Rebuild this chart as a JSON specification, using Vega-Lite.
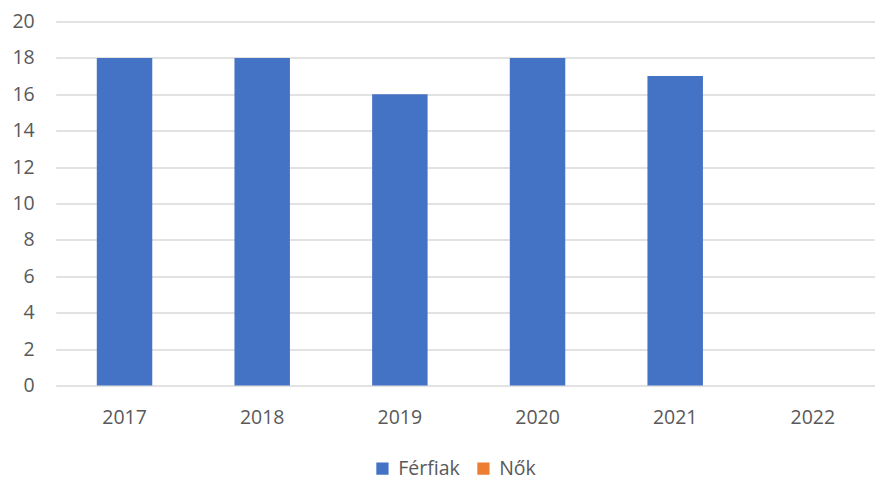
{
  "$schema": "https://vega.github.io/schema/vega-lite/v6.json",
  "width": 826,
  "height": 364,
  "autosize": {"type": "none"},
  "padding": {"left": 55.7, "top": 21.5, "right": 0, "bottom": 94.5},
  "background": "white",
  "data": {
    "values": [
      {"ev": "2017", "nem": "Férfiak", "ertek": 18},
      {"ev": "2018", "nem": "Férfiak", "ertek": 18},
      {"ev": "2019", "nem": "Férfiak", "ertek": 16},
      {"ev": "2020", "nem": "Férfiak", "ertek": 18},
      {"ev": "2021", "nem": "Férfiak", "ertek": 17},
      {"ev": "2022", "nem": "Férfiak", "ertek": 0},
      {"ev": "2017", "nem": "Nők", "ertek": 0},
      {"ev": "2018", "nem": "Nők", "ertek": 0},
      {"ev": "2019", "nem": "Nők", "ertek": 0},
      {"ev": "2020", "nem": "Nők", "ertek": 0},
      {"ev": "2021", "nem": "Nők", "ertek": 0},
      {"ev": "2022", "nem": "Nők", "ertek": 0}
    ]
  },
  "mark": {"type": "bar"},
  "encoding": {
    "x": {
      "field": "ev",
      "type": "nominal",
      "scale": {"paddingInner": 0.597, "paddingOuter": 0.2985},
      "axis": {
        "title": null,
        "labelAngle": 0,
        "labelFont": "Open Sans",
        "labelFontSize": 19.5,
        "labelColor": "#595959",
        "labelPadding": 23,
        "domain": false,
        "ticks": false,
        "grid": false
      }
    },
    "y": {
      "field": "ertek",
      "type": "quantitative",
      "stack": null,
      "scale": {"domain": [0, 20]},
      "axis": {
        "title": null,
        "values": [0, 2, 4, 6, 8, 10, 12, 14, 16, 18, 20],
        "labelFont": "Open Sans",
        "labelFontSize": 19.5,
        "labelColor": "#595959",
        "labelPadding": 21.5,
        "domain": false,
        "ticks": false,
        "grid": true,
        "gridColor": "#D9D9D9",
        "gridWidth": 1.3
      }
    },
    "color": {
      "field": "nem",
      "type": "nominal",
      "scale": {"domain": ["Férfiak", "Nők"], "range": ["#4472C4", "#ED7D31"]},
      "legend": {
        "title": null,
        "orient": "none",
        "legendX": 317,
        "legendY": 437,
        "direction": "horizontal",
        "symbolType": "square",
        "symbolSize": 150,
        "symbolOpacity": 1,
        "labelFont": "Open Sans",
        "labelFontSize": 19.5,
        "labelColor": "#595959",
        "labelOffset": 6,
        "columnPadding": 13
      }
    }
  },
  "config": {
    "view": {"stroke": null}
  }
}
